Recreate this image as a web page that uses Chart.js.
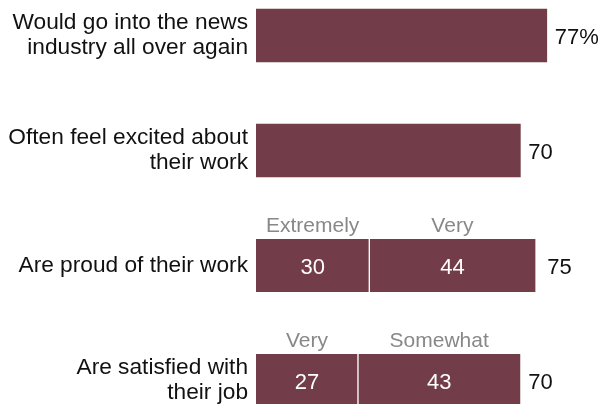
<!DOCTYPE html>
<html>
<head>
<meta charset="utf-8">
<script src="https://cdn.jsdelivr.net/npm/chart.js@4/dist/chart.umd.min.js"></script>
<style>
  html, body { margin: 0; padding: 0; background: #fff; overflow: hidden; }
  #wrap { position: absolute; left: 0; top: -22px; width: 611px; height: 460px; }
</style>
</head>
<body>
<div id="wrap"><canvas id="chart" width="611" height="460"></canvas></div>
<script>
// Row labels
const categories = [
    ['Would go into the news', 'industry all over again'],
    ['Often feel excited about', 'their work'],
    'Are proud of their work',
    ['Are satisfied with', 'their job']
];

// First and second segment of each bar (second only for split rows)
const firstPart = [77, 70, 30, 27];
const secondPart = [null, null, 44, 43];

// Net figure printed at the end of each bar
const totals = [77, 70, 75, 70];
const totalLabels = ['77%', '70', '75', '70'];

// Names over the split segments
const partNames = [null, null, ['Extremely', 'Very'], ['Very', 'Somewhat']];

const barColor = '#723d48';
const font = '"Liberation Sans", Arial, sans-serif';

// Draws segment values, segment names and the end totals
const barText = {
    id: 'barText',
    afterDatasetsDraw(chart) {
        const c = chart.ctx;
        const x = chart.scales.x;
        const m0 = chart.getDatasetMeta(0);
        const m1 = chart.getDatasetMeta(1);
        c.save();
        c.textBaseline = 'alphabetic';
        categories.forEach((cat, i) => {
            const b0 = m0.data[i];
            const top = b0.y - b0.height / 2;
            const base = b0.y + 8;

            c.font = '22px ' + font;
            c.fillStyle = '#111111';
            c.textAlign = 'left';
            c.fillText(totalLabels[i], x.getPixelForValue(totals[i]) + 8, base);

            if (!partNames[i]) return;
            const b1 = m1.data[i];
            const segs = [
                [(b0.base + b0.x) / 2, firstPart[i]],
                [(b1.base + b1.x) / 2, secondPart[i]]
            ];
            c.textAlign = 'center';
            segs.forEach((s, k) => {
                c.font = '22px ' + font;
                c.fillStyle = '#ffffff';
                c.fillText(String(s[1]), s[0], base);
                c.font = '21px ' + font;
                c.fillStyle = '#888888';
                c.fillText(partNames[i][k], s[0], top - 7);
            });
        });
        c.restore();
    }
};

new Chart(document.getElementById('chart'), {
    type: 'bar',
    data: {
        labels: categories,
        datasets: [{
            data: firstPart,
            backgroundColor: barColor,
            borderColor: '#ffffff',
            borderSkipped: false,
            borderWidth: ctx => partNames[ctx.dataIndex] ? { right: 1 } : 0,
            barThickness: 53
        }, {
            data: secondPart,
            backgroundColor: barColor,
            borderColor: '#ffffff',
            borderSkipped: false,
            borderWidth: { left: 1 },
            barThickness: 53
        }]
    },
    plugins: [barText],
    options: {
        indexAxis: 'y',
        responsive: false,
        animation: false,
        layout: { padding: 0 },
        plugins: {
            legend: { display: false },
            tooltip: { enabled: false }
        },
        scales: {
            x: {
                stacked: true,
                display: false,
                min: 0,
                max: 94
            },
            y: {
                stacked: true,
                afterFit: scale => {
                    scale.width = 256;
                    scale.paddingTop = 0;
                    scale.paddingBottom = 0;
                },
                grid: { display: false, drawTicks: false },
                border: { display: false },
                ticks: {
                    autoSkip: false,
                    padding: 8,
                    color: '#111111',
                    font: { family: font, size: 22.7, lineHeight: '25px' }
                }
            }
        }
    }
});
</script>
</body>
</html>
